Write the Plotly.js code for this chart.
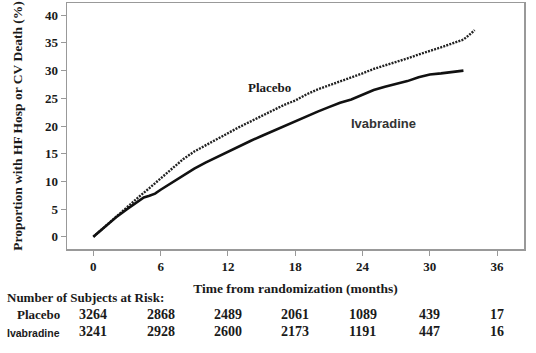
<!DOCTYPE html>
<html>
<head>
<meta charset="utf-8">
<script src="https://cdn.plot.ly/plotly-3.0.1.min.js"></script>
<style>html,body{margin:0;padding:0;background:#fff;}#chart{width:536px;height:353px;}</style>
</head>
<body>
<div id="chart"></div>
<script>
// Months from randomization
const placeboMonths = [0,0.5,1,1.5,2,2.5,3,4,5,6,7,8,9,10,11,12,13,14,15,16,17,18,19,20,21,22,23,24,25,26,27,28,29,30,31,32,33,33.5,34];
const placeboPct    = [0,0.9,1.8,2.7,3.6,4.4,5.3,7.1,8.8,10.5,12.2,14.0,15.4,16.5,17.6,18.8,19.8,20.8,21.8,22.8,23.8,24.6,25.7,26.6,27.3,28.0,28.7,29.5,30.3,30.9,31.6,32.2,32.9,33.5,34.2,34.9,35.6,36.4,37.3];
const ivaMonths = [0,0.5,1,2,3,4,4.5,5,5.5,6,7,8,9,10,11,12,13,14,15,16,17,18,19,20,21,22,23,24,25,26,27,28,29,30,31,32,33];
const ivaPct    = [0,0.9,1.8,3.5,5.0,6.4,7.1,7.4,7.8,8.5,9.8,11.1,12.3,13.4,14.4,15.4,16.4,17.3,18.2,19.1,20.0,20.8,21.7,22.6,23.4,24.2,24.8,25.6,26.5,27.1,27.6,28.1,28.8,29.3,29.5,29.8,30.0];

// Risk table
const riskTimes = [0,6,12,18,24,30,36];
const riskPlacebo = [3264,2868,2489,2061,1089,439,17];
const riskIva = [3241,2928,2600,2173,1191,447,16];

const serif = "Liberation Serif, Times New Roman, serif";
const sans = "Liberation Sans, Arial, sans-serif";
const txt = "#1a1a1a";

const traces = [
  {x: placeboMonths, y: placeboPct, mode: "lines", name: "Placebo",
   line: {color: "#222", width: 2.4, dash: "2px,1.2px"}, showlegend: false},
  {x: ivaMonths, y: ivaPct, mode: "lines", name: "Ivabradine",
   line: {color: "#111", width: 2.6}, showlegend: false}
];

const ann = [
  {x: 15.75, y: 27.0, xref: "x", yref: "y", text: "<b>Placebo</b>", showarrow: false,
   font: {family: serif, size: 13, color: txt}},
  {x: 25.9, y: 20.4, xref: "x", yref: "y", text: "<b>Ivabradine</b>", showarrow: false,
   font: {family: sans, size: 13, color: "#333"}},
  {x: 0, xref: "paper", xanchor: "left", xshift: -62, y: -0.236, yref: "paper",
   text: "<b>Number of Subjects at Risk:</b>", showarrow: false,
   font: {family: serif, size: 13, color: txt}},
  {x: 0, xref: "paper", xanchor: "left", xshift: -52, y: -0.305, yref: "paper",
   text: "<b>Placebo</b>", showarrow: false, font: {family: serif, size: 13, color: txt}},
  {x: 0, xref: "paper", xanchor: "left", xshift: -62, y: -0.374, yref: "paper",
   text: "<b>Ivabradine</b>", showarrow: false, font: {family: sans, size: 10.5, color: txt}}
];
riskTimes.forEach((t, i) => {
  ann.push({x: t, xref: "x", y: -0.305, yref: "paper", text: "<b>" + riskPlacebo[i] + "</b>",
            showarrow: false, font: {family: serif, size: 14, color: txt}});
  ann.push({x: t, xref: "x", y: -0.374, yref: "paper", text: "<b>" + riskIva[i] + "</b>",
            showarrow: false, font: {family: serif, size: 14, color: txt}});
});

const layout = {
  width: 536, height: 353,
  margin: {l: 67, r: 12, t: 3, b: 104},
  paper_bgcolor: "#fff", plot_bgcolor: "#fff",
  showlegend: false,
  xaxis: {
    range: [-2.35, 38.4], tickvals: riskTimes, ticktext: riskTimes.map(t => "<b>" + t + "</b>"),
    showgrid: false, zeroline: false, showline: true, mirror: true,
    linecolor: "#999", linewidth: 1.5, ticks: "outside", ticklen: 5, tickcolor: "#999",
    tickfont: {family: serif, size: 13, color: txt},
    title: {text: "<b>Time from randomization (months)</b>", standoff: 10,
            font: {family: serif, size: 13.5, color: txt}}
  },
  yaxis: {
    range: [-2.2, 42.2], tickvals: [0,5,10,15,20,25,30,35,40],
    ticktext: [0,5,10,15,20,25,30,35,40].map(v => "<b>" + v + "</b>"),
    showgrid: false, zeroline: false, showline: true, mirror: true,
    linecolor: "#999", linewidth: 1.5, ticks: "outside", ticklen: 5, tickcolor: "#999",
    tickfont: {family: serif, size: 13, color: txt},
    title: {text: "<b>Proportion with HF Hosp or CV Death (%)</b>", standoff: 19,
            font: {family: serif, size: 13.5, color: txt}}
  },
  annotations: ann
};

Plotly.newPlot("chart", traces, layout, {displayModeBar: false, staticPlot: true});
</script>
</body>
</html>
